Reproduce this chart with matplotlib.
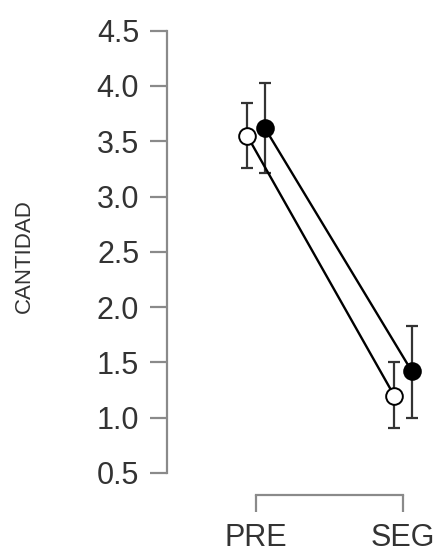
import numpy as np
from matplotlib import pyplot as plt

plt.rcParams['font.family'] = ['Liberation Sans', 'DejaVu Sans']

# data
momentos = ['PRE', 'SEG']
grupo_blanco = [3.55, 1.20]
err_blanco_sup = [3.85, 1.50]
err_blanco_inf = [3.26, 0.91]
grupo_negro = [3.62, 1.42]
err_negro_sup = [4.03, 1.83]
err_negro_inf = [3.21, 1.00]

x = np.arange(len(momentos))
dodge = 0.06

fig = plt.figure(figsize=(4.42, 5.55), dpi=100)
W, H = 442, 555
ax = fig.add_axes([167 / W, 1 - 473 / H, (430 - 167) / W, (473 - 30.7) / H])

# open circles
xb = x - dodge
ax.plot(xb, grupo_blanco, color='black', lw=1.7, zorder=2)
ax.errorbar(xb, grupo_blanco,
            yerr=[np.array(grupo_blanco) - np.array(err_blanco_inf),
                  np.array(err_blanco_sup) - np.array(grupo_blanco)],
            fmt='none', ecolor='#333333', elinewidth=1.6, capsize=4.5, capthick=1.6, zorder=1)
ax.plot(xb, grupo_blanco, 'o', ms=12, mfc='white', mec='black', mew=1.4, zorder=3)

# filled circles
xn = x + dodge
ax.plot(xn, grupo_negro, color='black', lw=1.7, zorder=2)
ax.errorbar(xn, grupo_negro,
            yerr=[np.array(grupo_negro) - np.array(err_negro_inf),
                  np.array(err_negro_sup) - np.array(grupo_negro)],
            fmt='none', ecolor='#333333', elinewidth=1.6, capsize=4.5, capthick=1.6, zorder=1)
ax.plot(xn, grupo_negro, 'o', ms=12, mfc='black', mec='black', mew=1.4, zorder=3)

ax.set_xlim(-89 / 147, 174 / 147)
ax.set_ylim(0.5, 4.5)

ax.spines['top'].set_visible(False)
ax.spines['right'].set_visible(False)
ax.spines['left'].set_bounds(0.5, 4.5)
ax.spines['bottom'].set_bounds(0, 1)
ax.spines['bottom'].set_position(('outward', 16))
for s in ['left', 'bottom']:
    ax.spines[s].set_color('#8a8a8a')
    ax.spines[s].set_linewidth(1.6)

ax.set_yticks(np.arange(0.5, 4.51, 0.5))
ax.set_yticklabels([f'{v:.1f}' for v in np.arange(0.5, 4.51, 0.5)])
ax.set_xticks(x)
ax.set_xticklabels(momentos)
ax.tick_params(axis='both', length=12, width=1.6, color='#8a8a8a',
               labelsize=22, labelcolor='#333333')
ax.tick_params(axis='y', pad=8)
ax.tick_params(axis='x', pad=8)

ax.set_ylabel('CANTIDAD', fontsize=16, color='#333333')
ax.yaxis.set_label_coords(-132 / (430 - 167), 0.49)

fig.savefig('out.png', dpi=100)
